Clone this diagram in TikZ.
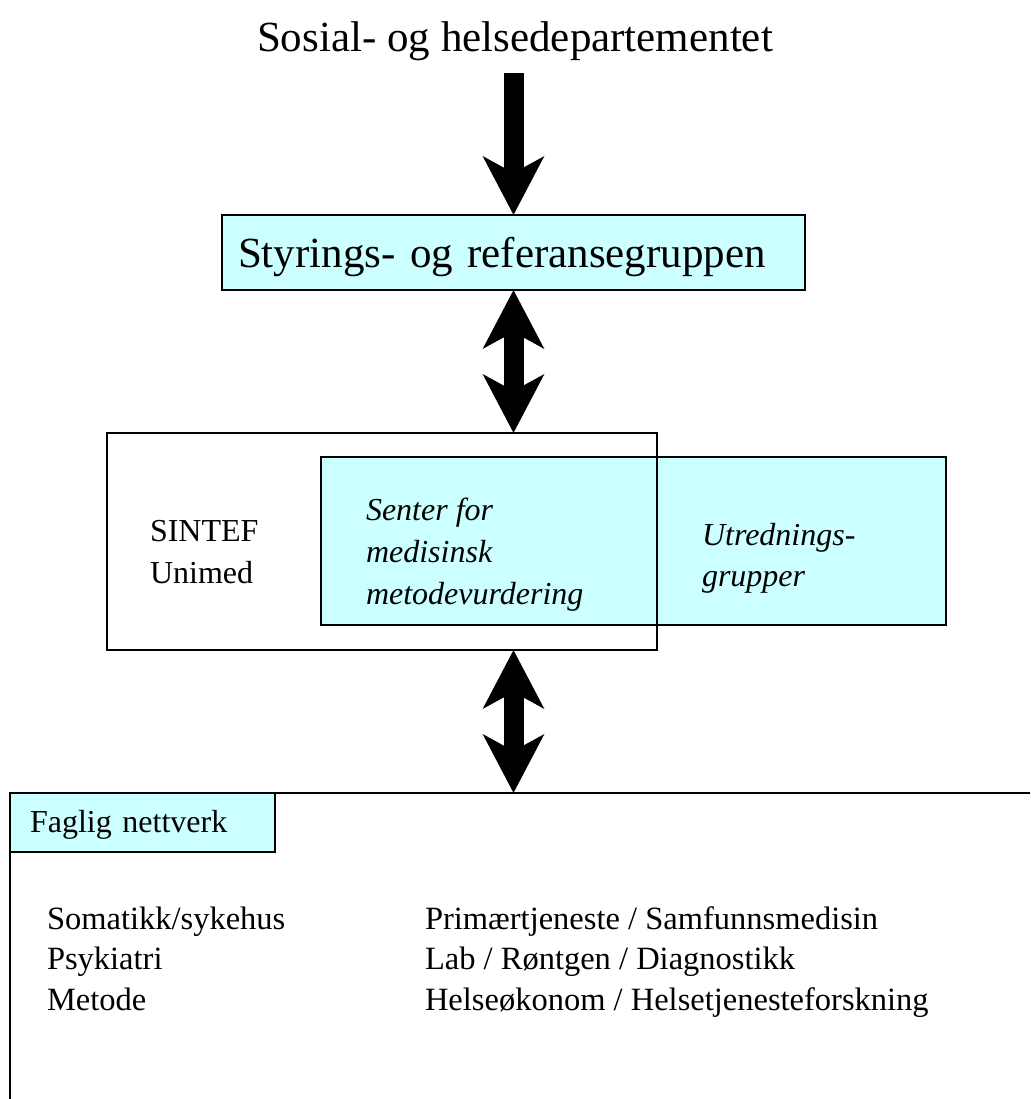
\documentclass[tikz,border=0pt]{standalone}
\usepackage{fontspec}
\setmainfont{Liberation Serif}
\usetikzlibrary{arrows.meta}
\definecolor{paleblue}{RGB}{204,255,255}
\tikzset{
  cbox/.style={draw, line width=1.6pt, fill=paleblue, anchor=north west},
  plainbox/.style={draw, line width=1.4pt, anchor=north west},
  txt/.style={anchor=base west, inner sep=0pt, align=left},
  bigarrow/.style={line width=20pt, -{Stealth[length=58pt, width=60pt, inset=16pt]}},
  twoarrow/.style={line width=20pt, {Stealth[length=58pt, width=60pt, inset=16pt]}-{Stealth[length=58pt, width=60pt, inset=16pt]}}
}

\begin{document}
\begin{tikzpicture}[x=1pt, y=-1pt, every node/.style={outer sep=0pt}]
      \path[use as bounding box] (0,0) rectangle (1030,1099);
      \clip (0,0) rectangle (1030,1099);
      % top
      \node[anchor=base, inner sep=0pt, font=\fontsize{43}{50}\selectfont] (sosial) at (515,52) {Sosial- og helsedepartementet};
      \node[cbox, text width=551pt, inner xsep=16pt, minimum height=75pt, text height=31pt, text depth=1pt, font=\fontsize{43}{50}\selectfont] (styr) at (222,215) {Styrings- og referansegruppen};
      % middle
      \node[cbox, minimum width=625pt, minimum height=168pt] (senter) at (321,457) {};
      \node[plainbox, minimum width=550pt, minimum height=217pt] (sintef) at (107,433) {};
      \node[txt, font=\fontsize{32}{42}\selectfont] (unimed) at (150,583) {SINTEF\\Unimed};
      \node[txt, font=\fontsize{32}{42}\selectfont\itshape] (smm) at (366,604) {Senter for\\medisinsk\\metodevurdering};
      \node[txt, font=\fontsize{32}{41}\selectfont\itshape] (utred) at (702,586) {Utrednings-\\grupper};
      % bottom
      \node[plainbox, line width=1.6pt, minimum width=1040pt, minimum height=320pt] (nett) at (10,793) {};
      \node[cbox, text width=225pt, inner xsep=20pt, minimum height=59pt, text height=22pt, text depth=2pt, font=\fontsize{32}{40}\selectfont] (faglig) at (10,793) {Faglig nettverk};
      \node[txt, font=\fontsize{32.5}{40.5}\selectfont] (felt1) at (47,1010) {Somatikk/sykehus\\Psykiatri\\Metode};
      \node[txt, font=\fontsize{32.5}{40.5}\selectfont] (felt2) at (425,1010) {Primærtjeneste / Samfunnsmedisin\\Lab / Røntgen / Diagnostikk\\Helseøkonom / Helsetjenesteforskning};
      % arrows
      \draw[bigarrow, shorten <=12pt] (styr.north |- sosial.south) -- (styr.north);
      \draw[twoarrow] (styr.south) -- (styr.south |- sintef.north);
      \draw[twoarrow] (styr.south |- sintef.south) -- (styr.south |- nett.north);
\end{tikzpicture}
\end{document}
